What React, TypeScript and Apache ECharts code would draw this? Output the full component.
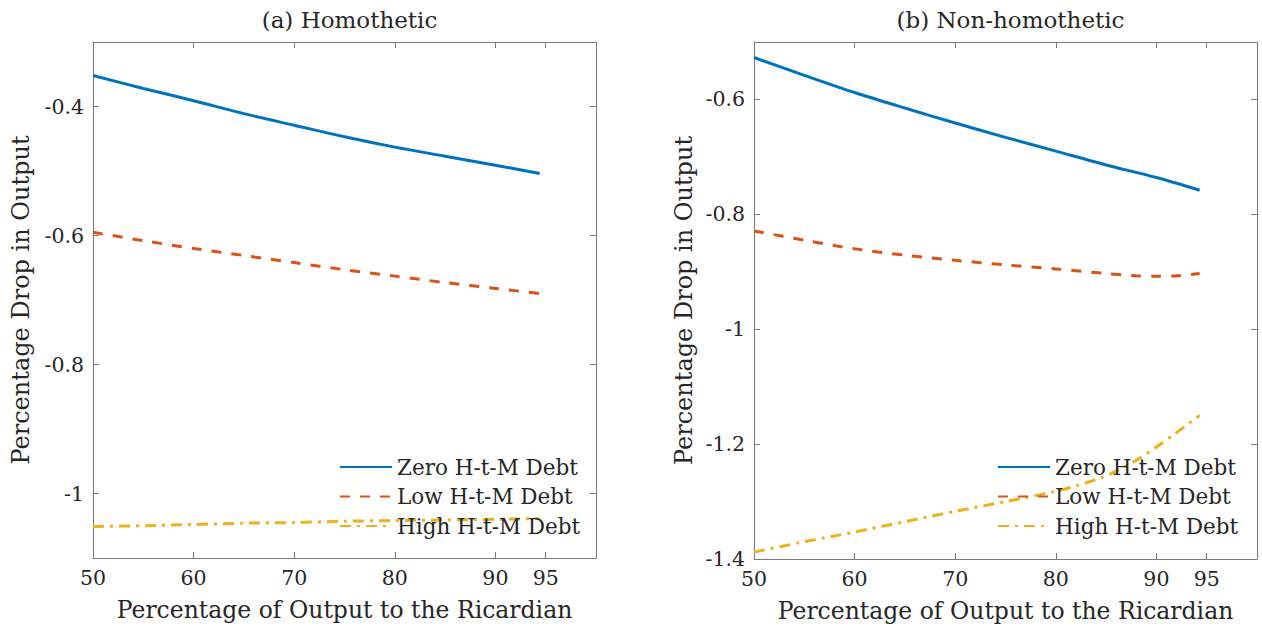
import React, { useEffect, useRef } from "react";
import * as echarts from "echarts";

// x positions (percentage of output to the Ricardian)
const xA = [50, 55, 60, 65, 70, 75, 80, 85, 90, 94.4];
const zeroA = [-0.352, -0.372, -0.391, -0.411, -0.429, -0.447, -0.463, -0.477, -0.491, -0.504];
const lowA = [-0.595, -0.608, -0.62, -0.631, -0.642, -0.653, -0.663, -0.673, -0.682, -0.69];
const highA = [-1.051, -1.05, -1.048, -1.046, -1.045, -1.043, -1.042, -1.041, -1.04, -1.039];

const xB0 = [50, 55, 60, 65, 70, 75, 80, 85, 90, 94.3];
const zeroB = [-0.527, -0.558, -0.588, -0.615, -0.641, -0.666, -0.69, -0.714, -0.736, -0.758];
const xB1 = [50, 55, 60, 65, 70, 75, 80, 85, 88, 90, 92, 94.3];
const lowB = [-0.829, -0.845, -0.86, -0.871, -0.88, -0.888, -0.895, -0.903, -0.907, -0.908, -0.907, -0.903];
const xB2 = [50, 55, 60, 65, 70, 75, 80, 84, 86, 88, 90, 92, 94.3];
const highB = [-1.388, -1.37, -1.353, -1.335, -1.317, -1.3, -1.282, -1.262, -1.247, -1.228, -1.205, -1.18, -1.15];

const xTicks = [50, 60, 70, 80, 90, 95];
const yTicksA = [-1, -0.8, -0.6, -0.4];
const yTicksB = [-1.4, -1.2, -1, -0.8, -0.6];

const names = ["Zero H-t-M Debt", "Low H-t-M Debt", "High H-t-M Debt"];
const titles = ["(a) Homothetic", "(b) Non-homothetic"];
const xName = "Percentage of Output to the Ricardian";
const yName = "Percentage Drop in Output";

const FONT = "DejaVu Serif";
const TXT = "#262626";
const AX = "#7a7a7a";
const COLORS = ["#0072BD", "#D95319", "#EDB120"];
const DASHES: any[] = ["solid", [10, 10], [11, 6, 3, 6]];

const pairs = (xs: number[], ys: number[]) => xs.map((x, i) => [x, ys[i]]);

export default function App() {
  const ref = useRef<HTMLDivElement>(null);
  useEffect(() => {
    if (!ref.current) return;
    const chart = echarts.init(ref.current, null, { renderer: "svg" });
    const grids = [
      { left: 93, top: 42, width: 503, height: 516 },
      { left: 754, top: 42, width: 503, height: 517 },
    ];
    const yRanges = [
      { min: -1.1, max: -0.3, ticks: yTicksA },
      { min: -1.4, max: -0.5, ticks: yTicksB },
    ];
    const xAxes: any[] = [];
    const yAxes: any[] = [];
    [0, 1].forEach((g) => {
      xAxes.push({
        type: "value",
        gridIndex: g,
        min: 50,
        max: 100,
        position: "bottom",
        name: xName,
        nameLocation: "middle",
        nameGap: 40,
        nameTextStyle: { fontFamily: FONT, fontSize: 23.5, color: TXT },
        axisLine: { show: true, lineStyle: { color: AX, width: 1 } },
        axisTick: { show: true, inside: true, length: 6, customValues: xTicks, lineStyle: { color: AX } },
        axisLabel: { show: true, customValues: xTicks, margin: 9, fontFamily: FONT, fontSize: 20.5, color: TXT },
        splitLine: { show: false },
      });
      xAxes.push({
        type: "value",
        gridIndex: g,
        min: 50,
        max: 100,
        position: "top",
        axisLine: { show: true, lineStyle: { color: AX, width: 1 } },
        axisTick: { show: true, inside: true, length: 6, customValues: xTicks, lineStyle: { color: AX } },
        axisLabel: { show: false },
        splitLine: { show: false },
      });
      const yr = yRanges[g];
      yAxes.push({
        type: "value",
        gridIndex: g,
        min: yr.min,
        max: yr.max,
        position: "left",
        name: yName,
        nameLocation: "middle",
        nameGap: g === 0 ? 60 : 58,
        nameTextStyle: { fontFamily: FONT, fontSize: 24, color: TXT },
        axisLine: { show: true, lineStyle: { color: AX, width: 1 } },
        axisTick: { show: true, inside: true, length: 6, customValues: yr.ticks, lineStyle: { color: AX } },
        axisLabel: { show: true, customValues: yr.ticks, margin: 9, fontFamily: FONT, fontSize: 20.5, color: TXT },
        splitLine: { show: false },
      });
      yAxes.push({
        type: "value",
        gridIndex: g,
        min: yr.min,
        max: yr.max,
        position: "right",
        axisLine: { show: true, lineStyle: { color: AX, width: 1 } },
        axisTick: { show: true, inside: true, length: 6, customValues: yr.ticks, lineStyle: { color: AX } },
        axisLabel: { show: false },
        splitLine: { show: false },
      });
    });

    const dataA = [pairs(xA, zeroA), pairs(xA, lowA), pairs(xA, highA)];
    const dataB = [pairs(xB0, zeroB), pairs(xB1, lowB), pairs(xB2, highB)];
    const series: any[] = [];
    [dataA, dataB].forEach((set, g) => {
      set.forEach((d, i) => {
        series.push({
          type: "line",
          name: names[i],
          xAxisIndex: g * 2,
          yAxisIndex: g * 2,
          data: d,
          symbol: "none",
          showSymbol: false,
          smooth: 0.3,
          lineStyle: { color: COLORS[i], width: 3, type: DASHES[i] },
          itemStyle: { color: COLORS[i] },
          z: 3,
        });
      });
    });

    const legendCommon = {
      orient: "vertical",
      top: 455,
      padding: 0,
      itemWidth: 52,
      itemHeight: 14,
      itemGap: 5.5,
      data: names,
      selectedMode: false,
      itemStyle: { opacity: 0 },
      textStyle: { fontFamily: FONT, fontSize: 21.5, color: TXT, lineHeight: 24 },
    };

    chart.setOption({
      animation: false,
      backgroundColor: "#ffffff",
      textStyle: { fontFamily: FONT },
      title: [
        {
          text: titles[0],
          left: 344.5,
          top: 3,
          textAlign: "center",
          textStyle: { fontFamily: FONT, fontSize: 23, fontWeight: "normal", color: TXT },
        },
        {
          text: titles[1],
          left: 1005.5,
          top: 3,
          textAlign: "center",
          textStyle: { fontFamily: FONT, fontSize: 23, fontWeight: "normal", color: TXT },
        },
      ],
      legend: [
        { ...legendCommon, left: 339 },
        { ...legendCommon, left: 997 },
      ],
      grid: grids,
      xAxis: xAxes,
      yAxis: yAxes,
      series,
    });
    return () => chart.dispose();
  }, []);
  return (
    <div
      ref={ref}
      style={{ position: "fixed", left: 0, top: 0, width: 1262, height: 633, background: "#fff" }}
    />
  );
}
